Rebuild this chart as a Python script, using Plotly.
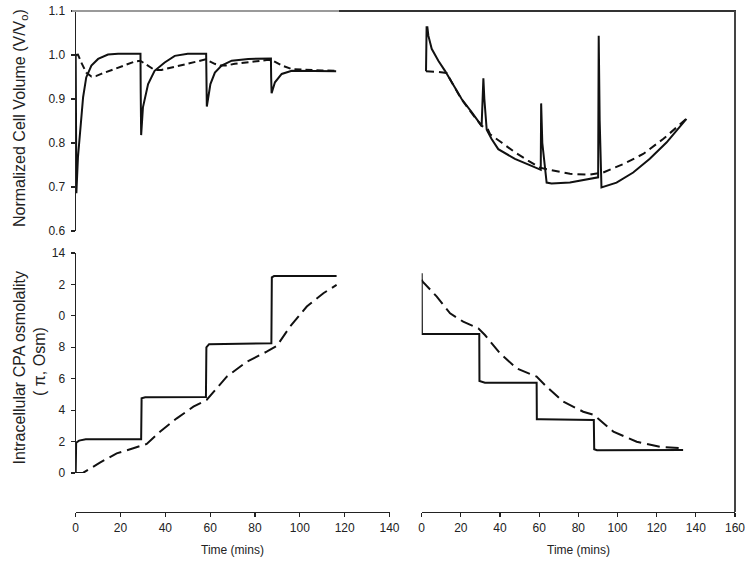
import plotly.graph_objects as go

W, H = 750, 566

# ---------------- data ----------------
# Top-left: normalized cell volume, stepwise addition (solid) vs continuous (dashed)
tl_solid_t = [0, 0.05, 0.3, 1.0, 2.2, 3.3, 4.7, 7.0, 10, 14.4, 18.9, 28.9,
              29.0, 29.2, 30.0, 32.3, 35.2, 39.7, 44.2, 50, 58.2,
              58.3, 58.5, 60.1, 62.1, 65.1, 69.6, 77, 87.1,
              87.2, 87.4, 88.9, 91.9, 96.4, 105, 116.2]
tl_solid_v = [1.0, 0.9, 0.686, 0.767, 0.843, 0.904, 0.949, 0.976, 0.991, 1.001, 1.003, 1.003,
              0.92, 0.818, 0.881, 0.934, 0.964, 0.983, 0.998, 1.003, 1.003,
              0.95, 0.883, 0.934, 0.96, 0.976, 0.987, 0.991, 0.992,
              0.95, 0.913, 0.938, 0.957, 0.964, 0.964, 0.963]
tl_dash_t = [0, 1.0, 2.5, 4.7, 7.0, 9.0, 11.4, 18.9, 26.3, 28.8, 31.5, 35.2, 38.2, 44.2,
             53.1, 58.0, 60.0, 62.0, 64.5, 67.0, 71.0, 78.0, 86.0, 88.0, 90.0, 92.0,
             96.5, 102.5, 110.0, 116.2]
tl_dash_v = [1.0, 1.001, 0.983, 0.96, 0.951, 0.952, 0.957, 0.972, 0.985, 0.987, 0.978, 0.966,
             0.966, 0.973, 0.985, 0.99, 0.985, 0.98, 0.976, 0.976, 0.98, 0.985, 0.989, 0.987,
             0.981, 0.976, 0.968, 0.966, 0.965, 0.964]

# Top-right: normalized cell volume during removal
tr_solid_t = [0, 0.3, 0.7, 1.2, 2.9, 6.3, 9.7, 13.1, 18.2, 23.3, 28.4, 29.3, 29.8, 31.0,
              33.5, 36.9, 45.4, 53.9, 58.6, 58.8, 59.4, 61.6, 64.1, 73.5, 87.9,
              88.2, 88.7, 89.6, 97.3, 105.8, 114.3, 122.8, 133.0]
tr_solid_v = [0.963, 1.063, 1.063, 1.044, 1.014, 0.987, 0.964, 0.938, 0.9, 0.87, 0.839, 0.947,
              0.9, 0.83, 0.809, 0.786, 0.764, 0.748, 0.739, 0.89, 0.8, 0.71, 0.708, 0.71, 0.722,
              1.044, 0.85, 0.699, 0.71, 0.733, 0.764, 0.801, 0.855]
tr_dash_t = [0, 5.0, 10.5, 13.0, 18.0, 23.0, 28.4, 31.5, 32.7, 38.6, 42.9, 45.4, 52.1, 58.2,
             63.3, 73.5, 83.7, 90.5, 100.7, 110.9, 121.1, 133.0]
tr_dash_v = [0.963, 0.962, 0.959, 0.94, 0.9, 0.87, 0.839, 0.832, 0.82, 0.801, 0.786, 0.779,
             0.76, 0.744, 0.739, 0.73, 0.728, 0.733, 0.752, 0.775, 0.809, 0.855]

# Bottom-left: intracellular CPA osmolality, loading
bl_solid_t = [0, 0.2, 1.5, 4.5, 29.2, 29.4, 31.0, 58.1, 58.3, 59.5, 87.3, 87.5, 88.5, 116.4]
bl_solid_v = [0, 1.93, 2.06, 2.14, 2.15, 4.75, 4.82, 4.83, 8.0, 8.2, 8.25, 12.45, 12.53, 12.53]
bl_dash_t = [0, 3.4, 10.8, 18.3, 25.7, 29.5, 31.7, 37.6, 45.1, 52.5, 58.4, 67.4, 76.3, 85.2,
             89.7, 95.6, 103.1, 110.5, 116.4]
bl_dash_v = [0, 0.02, 0.66, 1.25, 1.57, 1.75, 1.85, 2.63, 3.48, 4.22, 4.65, 6.13, 7.08, 7.72,
             8.08, 9.31, 10.59, 11.44, 11.97]

# Bottom-right: intracellular CPA osmolality, removal
br_solid_t = [0, 0.1, 1.0, 29.4, 29.5, 32.3, 58.7, 58.8, 60.8, 87.9, 88.1, 89.5, 133.5]
br_solid_v = [12.71, 8.85, 8.85, 8.85, 5.86, 5.75, 5.75, 3.42, 3.42, 3.38, 1.51, 1.45, 1.47]
br_dash_t = [0, 0.5, 7.7, 14.5, 21.2, 28.9, 32.3, 40.0, 48.5, 58.7, 63.8, 72.3, 82.5, 88.0,
             97.9, 109.8, 121.7, 132.8]
br_dash_v = [12.3, 12.18, 11.22, 10.16, 9.63, 9.21, 8.78, 7.62, 6.66, 6.13, 5.49, 4.54, 3.9,
             3.69, 2.63, 1.99, 1.67, 1.57]

vol_ticks = [0.6, 0.7, 0.8, 0.9, 1.0, 1.1]
osm_tickvals = [0, 2, 4, 6, 8, 10, 12, 14]
osm_ticktext = ["0", "2", "4", "6", "8", "0", "2", "14"]
time_ticks_left = [0, 20, 40, 60, 80, 100, 120, 140]
time_ticks_right = [0, 20, 40, 60, 80, 100, 120, 140, 160]

# ---------------- helpers ----------------
def px(x):
    return x / W

def py(y):
    return 1 - y / H

INK = "#111111"
FONT = "Liberation Sans, Arial, sans-serif"

fig = go.Figure()

def add(t, v, xa, ya, dash):
    fig.add_trace(go.Scatter(x=t, y=v, xaxis=xa, yaxis=ya, mode="lines",
                             line=dict(color=INK, width=2, dash=dash),
                             showlegend=False, hoverinfo="skip"))

add(tl_solid_t, tl_solid_v, "x", "y", "solid")
add(tl_dash_t, tl_dash_v, "x", "y", "7px,4px")
add(tr_solid_t, tr_solid_v, "x2", "y2", "solid")
add(tr_dash_t, tr_dash_v, "x2", "y2", "8px,5px")
add(bl_solid_t, bl_solid_v, "x3", "y3", "solid")
add(bl_dash_t, bl_dash_v, "x3", "y3", "13px,6px")
add(br_solid_t, br_solid_v, "x4", "y4", "solid")
add(br_dash_t, br_dash_v, "x4", "y4", "13px,6px")

left_dom = [px(75.7), px(389.5)]
right_dom = [px(421.7), px(735)]
top_dom = [py(231), py(11)]
bot_dom = [py(473), py(253)]
xpos = py(511.7)

tickfont = dict(family=FONT, size=12, color="#222")
axcommon = dict(showgrid=False, zeroline=False, showline=True, linecolor="#222",
                linewidth=1.2, ticks="outside", ticklen=4, tickcolor="#222",
                tickwidth=1.2, tickfont=tickfont, automargin=False)
hidden = dict(visible=False, showgrid=False, zeroline=False, automargin=False)

fig.update_layout(
    width=W, height=H, autosize=False,
    margin=dict(l=0, r=0, t=0, b=0, pad=0),
    paper_bgcolor="white", plot_bgcolor="rgba(0,0,0,0)",
    font=dict(family=FONT, color="#222"),
    hovermode=False,
    xaxis=dict(domain=left_dom, range=[0, 140], anchor="y", **hidden),
    yaxis=dict(domain=top_dom, range=[0.6, 1.1], anchor="x", tickvals=vol_ticks,
               tickformat=".1f", ticklabelstandoff=3, **axcommon),
    xaxis2=dict(domain=right_dom, range=[-2.2, 157.8], anchor="y2", **hidden),
    yaxis2=dict(domain=top_dom, range=[0.6, 1.1], anchor="x2", **hidden),
    xaxis3=dict(domain=left_dom, range=[0, 140], anchor="free", position=xpos,
                tickvals=time_ticks_left, ticklabelstandoff=1, **axcommon),
    yaxis3=dict(domain=bot_dom, range=[0, 14], anchor="x3", tickvals=osm_tickvals,
                ticktext=osm_ticktext, ticklabelstandoff=3, **axcommon),
    xaxis4=dict(domain=right_dom, range=[0, 160], anchor="free", position=xpos,
                tickvals=time_ticks_right, ticklabelstandoff=1, **axcommon),
    yaxis4=dict(domain=bot_dom, range=[0, 14], anchor="x4", **hidden),
)

# frame lines (top and right)
fig.add_shape(type="line", xref="paper", yref="paper", x0=px(72), x1=px(339),
              y0=py(11), y1=py(11), line=dict(color="#9a9a9a", width=2))
fig.add_shape(type="line", xref="paper", yref="paper", x0=px(339), x1=px(736),
              y0=py(11), y1=py(11), line=dict(color="#333", width=2))
fig.add_shape(type="line", xref="paper", yref="paper", x0=px(735), x1=px(735),
              y0=py(11), y1=py(512), line=dict(color="#444", width=2))

# axis titles
def ann(text, x, y, angle=0, size=16):
    fig.add_annotation(text=text, xref="paper", yref="paper", x=px(x), y=py(y),
                       xanchor="center", yanchor="middle", showarrow=False,
                       textangle=angle, font=dict(family=FONT, size=size, color="#222"))

ann("Normalized Cell Volume (V/V<sub>o</sub>)", 20, 118, -90)
ann("Intracellular CPA osmolality", 18.5, 368, -90)
ann("( π, Osm)", 39, 362, -90)
ann("Time (mins)", 232, 550, 0, 12)
ann("Time (mins)", 578, 550, 0, 12)

fig.write_html(
    "out.html",
    config={"displayModeBar": False, "staticPlot": True},
    post_script="document.body.style.margin='0px';document.body.style.overflow='hidden';",
)
